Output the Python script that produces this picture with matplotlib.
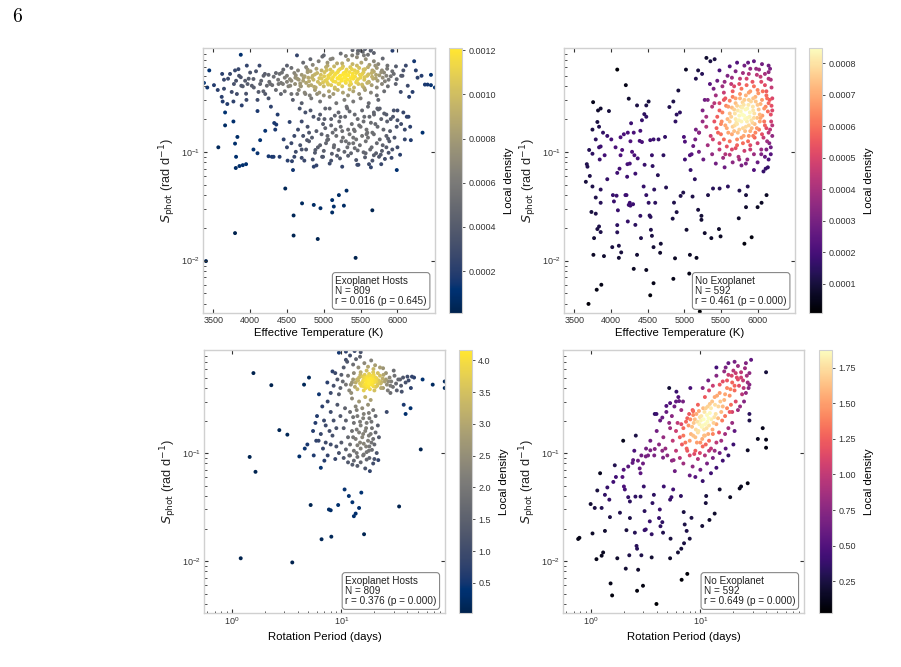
import numpy as np
import matplotlib
matplotlib.use("Agg")
import matplotlib.pyplot as plt
from matplotlib.ticker import FormatStrFormatter

plt.rcParams['font.family'] = ['Liberation Sans', 'DejaVu Sans']
plt.rcParams['mathtext.fontset'] = 'custom'
plt.rcParams['mathtext.rm'] = 'Liberation Sans'
plt.rcParams['mathtext.it'] = 'Liberation Sans:italic'
plt.rcParams['mathtext.bf'] = 'Liberation Sans:bold'

# ---- data: (Teff [K], S_phot [rad/d]) and (Prot [d], S_phot) ----
hosts_teff_sphot = [
    (3373, 0.43), (3418, 0.39), (3445, 0.56), (3509, 0.41), (3560, 0.37), (3568, 0.11), (3400, 0.0099),
    (3614, 0.32), (3627, 0.29), (3645, 0.46), (3660, 0.23), (3660, 0.175), (3645, 0.38), (3690, 0.275),
    (3727, 0.52), (3750, 0.355), (3773, 0.29), (3773, 0.19), (3795, 0.56), (3809, 0.45), (3795, 0.119),
    (3827, 0.137), (3809, 0.09), (3805, 0.071), (3795, 0.0179), (3841, 0.575), (3873, 0.78), (3873, 0.485),
    (3880, 0.405), (3886, 0.267), (3855, 0.074), (3900, 0.0754), (3945, 0.077), (3932, 0.45), (3945, 0.342),
    (3955, 0.62), (3965, 0.42), (4000, 0.535), (4023, 0.405), (4045, 0.467), (4045, 0.105), (4100, 0.237),
    (4100, 0.097), (4127, 0.62), (4114, 0.355), (4136, 0.42), (4136, 0.128), (4182, 0.5), (4205, 0.34),
    (4227, 0.405), (4205, 0.156), (4250, 0.51), (4250, 0.091), (4273, 0.42), (4282, 0.26), (4295, 0.09),
    (4318, 0.09), (4327, 0.184), (4341, 0.16), (4355, 0.178), (4373, 0.22), (4386, 0.42), (4400, 0.09),
    (4418, 0.34), (4432, 0.535), (4445, 0.42), (4455, 0.13), (4477, 0.046), (4500, 0.62), (4500, 0.11),
    (4509, 0.083), (4536, 0.188), (4545, 0.405), (4568, 0.082), (4582, 0.068), (4590, 0.026), (4590, 0.017),
    (4600, 0.09), (4614, 0.48), (4636, 0.77), (4640, 0.34), (4660, 0.46), (4673, 0.25), (4682, 0.405),
    (4705, 0.0336), (4727, 0.48), (4736, 0.083), (4750, 0.34), (4773, 0.128), (4795, 0.405), (4818, 0.71),
    (4840, 0.48), (4864, 0.0325), (4864, 0.073), (4886, 0.104), (4909, 0.34), (4918, 0.0158), (4955, 0.0303),
    (4977, 0.09), (5000, 0.77), (5009, 0.2), (5020, 0.25), (5045, 0.128), (5091, 0.71), (5114, 0.036),
    (5114, 0.0277), (5136, 0.0314), (5136, 0.11), (5159, 0.16), (5205, 0.040), (5227, 0.209), (5273, 0.032),
    (5309, 0.044), (5318, 0.25), (5341, 0.119), (5386, 0.77), (5409, 0.16), (5432, 0.0106), (5455, 0.076),
    (5464, 0.85), (5500, 0.85), (5523, 0.52), (5545, 0.77), (5568, 0.097), (5591, 0.15), (5614, 0.077),
    (5636, 0.85), (5659, 0.029), (5682, 0.22), (5727, 0.25), (5773, 0.094), (5818, 0.535), (5864, 0.62),
    (5873, 0.132), (5909, 0.2), (5932, 0.85), (5977, 0.42), (5991, 0.068), (6000, 0.24), (6036, 0.094),
    (6045, 0.355), (6068, 0.5), (6114, 0.62), (6127, 0.21), (6140, 0.405), (6159, 0.32), (6173, 0.17),
    (6182, 0.128), (6205, 0.355), (6227, 0.68), (6250, 0.56), (6273, 0.48), (6327, 0.5), (6341, 0.15),
    (6373, 0.415), (6409, 0.415), (6455, 0.51), (6455, 0.41), (6509, 0.39),
    (3900, 0.40), (3980, 0.47), (4050, 0.39), (4150, 0.45), (4200, 0.52), (4260, 0.44), (4320, 0.49),
    (4350, 0.37), (3850, 0.50), (3780, 0.42), (3700, 0.47), (3620, 0.52), (4080, 0.55), (4180, 0.36),
    (4250, 0.31), (3950, 0.30), (3820, 0.34), (4100, 0.30),
    (4720, 0.66), (4850, 0.63), (4930, 0.68), (5050, 0.62), (5120, 0.72), (5180, 0.65), (5260, 0.61),
    (5330, 0.70), (5390, 0.64), (5450, 0.74), (5510, 0.66), (5570, 0.71), (5620, 0.63), (5680, 0.68),
    (5740, 0.64), (5800, 0.72), (5460, 0.80), (5530, 0.83), (5600, 0.78), (5390, 0.86), (5680, 0.81),
    (5300, 0.76), (5560, 0.88), (5640, 0.87), (4980, 0.75), (5230, 0.80),
    (4450, 0.57), (4560, 0.59), (4650, 0.56), (4760, 0.60), (4820, 0.55), (4900, 0.58), (4970, 0.56),
    (5030, 0.60), (5090, 0.57), (5140, 0.61), (5200, 0.56), (5250, 0.59), (5310, 0.57), (5360, 0.60),
    (5420, 0.56), (5480, 0.59), (5540, 0.57), (5600, 0.60), (5660, 0.56), (5720, 0.59), (5790, 0.56),
    (5860, 0.58), (5930, 0.55),
    (4400, 0.52), (4500, 0.50), (4600, 0.53), (4700, 0.51), (4780, 0.54), (4850, 0.50), (4910, 0.53),
    (4960, 0.51), (5010, 0.54), (5060, 0.50), (5100, 0.53), (5150, 0.51), (5190, 0.54), (5230, 0.50),
    (5270, 0.53), (5310, 0.51), (5350, 0.54), (5390, 0.50), (5440, 0.53), (5490, 0.51), (5540, 0.54),
    (5590, 0.50), (5650, 0.53), (5710, 0.51), (5780, 0.54), (5850, 0.50), (5950, 0.52), (6050, 0.50),
    (4380, 0.46), (4470, 0.48), (4560, 0.45), (4640, 0.47), (4720, 0.45), (4790, 0.48), (4860, 0.46),
    (4920, 0.44), (4970, 0.47), (5020, 0.45), (5070, 0.48), (5110, 0.46), (5160, 0.44), (5200, 0.47),
    (5240, 0.45), (5280, 0.48), (5320, 0.46), (5360, 0.44), (5400, 0.47), (5450, 0.45), (5500, 0.48),
    (5550, 0.46), (5610, 0.44), (5670, 0.47), (5730, 0.45), (5800, 0.48), (5880, 0.46),
    (4300, 0.41), (4420, 0.43), (4520, 0.40), (4610, 0.42), (4690, 0.40), (4760, 0.43), (4830, 0.41),
    (4890, 0.39), (4950, 0.42), (5000, 0.40), (5050, 0.43), (5100, 0.41), (5150, 0.39), (5200, 0.42),
    (5250, 0.40), (5300, 0.43), (5350, 0.41), (5410, 0.39), (5470, 0.42), (5530, 0.40), (5590, 0.43),
    (5650, 0.41), (5720, 0.39), (5790, 0.42), (5870, 0.40),
    (4470, 0.36), (4560, 0.34), (4660, 0.37), (4740, 0.35), (4810, 0.33), (4880, 0.37), (4940, 0.35),
    (5000, 0.33), (5070, 0.36), (5130, 0.34), (5190, 0.37), (5260, 0.35), (5330, 0.33), (5400, 0.36),
    (5480, 0.34), (5560, 0.37), (5640, 0.35), (5720, 0.33), (5820, 0.36),
    (4580, 0.30), (4700, 0.28), (4830, 0.31), (4950, 0.29), (5080, 0.32), (5170, 0.28), (5280, 0.30),
    (5400, 0.29), (5500, 0.31), (5610, 0.28), (5740, 0.30),
    (4880, 0.515), (4940, 0.475), (5005, 0.495), (5045, 0.465), (5085, 0.515), (5125, 0.485), (5165, 0.525),
    (5185, 0.475), (5215, 0.495), (5245, 0.465), (5265, 0.515), (5295, 0.485), (5335, 0.505), (5365, 0.475),
    (5395, 0.525), (5425, 0.49), (5465, 0.465), (5505, 0.505), (5555, 0.485), (5605, 0.515), (5655, 0.49),
    (5705, 0.475), (5755, 0.505), (4990, 0.435), (5060, 0.415), (5130, 0.445), (5210, 0.425), (5290, 0.445),
    (5370, 0.42), (5440, 0.435), (5520, 0.415), (5610, 0.435), (5040, 0.565), (5120, 0.545), (5220, 0.575),
    (5300, 0.545), (5380, 0.575), (5460, 0.545), (5560, 0.575), (5680, 0.545), (4800, 0.445), (4740, 0.495),
    (4680, 0.425), (5830, 0.445), (5910, 0.495), (5990, 0.465), (4620, 0.505), (4540, 0.465), (5150, 0.38),
    (5350, 0.375), (5550, 0.385), (4870, 0.395), (5250, 0.65), (5050, 0.66), (5450, 0.62), (5700, 0.62),
    (4780, 0.57), (5980, 0.61), (6080, 0.56), (4500, 0.44), (4350, 0.53),
    (4820, 0.24), (4950, 0.22), (5080, 0.25), (5200, 0.23), (5310, 0.26), (5420, 0.22), (5520, 0.24),
    (5600, 0.26), (5680, 0.23), (5760, 0.25), (5850, 0.22), (5950, 0.24), (6080, 0.23), (5550, 0.21),
    (4700, 0.19), (4860, 0.21), (4990, 0.18), (5100, 0.20), (5210, 0.19), (5290, 0.21), (5380, 0.18),
    (5460, 0.20), (5540, 0.19), (5620, 0.21), (5700, 0.18), (5780, 0.20), (5860, 0.19), (5940, 0.21),
    (6050, 0.18),
    (4650, 0.16), (4780, 0.17), (4900, 0.155), (5020, 0.165), (5120, 0.15), (5230, 0.17), (5330, 0.16),
    (5420, 0.155), (5500, 0.17), (5580, 0.16), (5660, 0.15), (5730, 0.17), (5810, 0.16), (5900, 0.155),
    (5990, 0.17), (6100, 0.16),
    (4720, 0.14), (4840, 0.135), (4970, 0.145), (5060, 0.13), (5170, 0.14), (5260, 0.135), (5350, 0.145),
    (5440, 0.13), (5520, 0.14), (5600, 0.135), (5680, 0.145), (5760, 0.13), (5850, 0.14), (5960, 0.135),
    (4560, 0.12), (4680, 0.115), (4800, 0.125), (4920, 0.11), (5030, 0.12), (5140, 0.115), (5240, 0.125),
    (5320, 0.11), (5400, 0.12), (5490, 0.115), (5570, 0.125), (5650, 0.11), (5720, 0.12), (5800, 0.115),
    (5890, 0.125), (6000, 0.11),
    (4620, 0.10), (4760, 0.105), (4880, 0.098), (5000, 0.102), (5110, 0.096), (5200, 0.104), (5280, 0.10),
    (5370, 0.097), (5460, 0.103), (5540, 0.099), (5630, 0.105), (5710, 0.097), (5790, 0.102), (5880, 0.098),
    (4700, 0.088), (4850, 0.085), (4990, 0.09), (5100, 0.083), (5220, 0.087), (5330, 0.092), (5440, 0.084),
    (5560, 0.089), (5660, 0.083), (5750, 0.09), (5830, 0.086), (5920, 0.088),
    (4900, 0.075), (5080, 0.078), (5250, 0.073), (5470, 0.076), (5640, 0.072), (5780, 0.077),
    (4750, 0.23), (4930, 0.20), (5150, 0.215), (5350, 0.235), (5480, 0.175), (5640, 0.185), (5820, 0.225),
    (6000, 0.195), (6150, 0.21), (4800, 0.15), (5050, 0.14), (5300, 0.125), (5580, 0.145), (5850, 0.11),
    (6100, 0.13), (4700, 0.105), (4950, 0.115), (5180, 0.092), (5420, 0.108), (5680, 0.093), (5930, 0.105),
    (4600, 0.14), (5740, 0.245), (5100, 0.175), (5400, 0.135), (5250, 0.155),
]

hosts_prot_sphot = [
    (1.58, 0.55), (2.30, 0.425), (2.72, 0.163), (3.22, 0.148), (1.46, 0.092), (1.65, 0.067), (1.21, 0.0106),
    (3.57, 0.0097), (4.14, 0.093), (4.57, 0.43), (5.07, 0.50), (4.64, 0.11), (4.9, 0.12), (5.25, 0.033),
    (5.52, 0.16), (5.6, 0.095), (5.9, 0.13), (6.25, 0.35), (6.5, 0.073), (6.6, 0.0159), (6.7, 0.27),
    (6.95, 0.2), (7.2, 0.125), (7.45, 0.45), (7.7, 0.030), (8.0, 0.0295), (8.1, 0.0168), (8.3, 0.57),
    (8.0, 0.36), (9.35, 0.033), (10.7, 0.046), (11.7, 0.040), (12.6, 0.035), (13.0, 0.026), (13.5, 0.0275),
    (14.5, 0.031), (15.2, 0.043), (16.1, 0.0177), (11.0, 0.73), (33.6, 0.032), (52.9, 0.108), (21.7, 0.086),
    (68.0, 0.43), (87.5, 0.46), (87.5, 0.40), (55.0, 0.48), (37.0, 0.28), (38.5, 0.23), (42.7, 0.26),
    (25.9, 0.24), (34.3, 0.48), (40.0, 0.51), (46.0, 0.50),
    (13.5, 0.45), (14.5, 0.50), (15.2, 0.42), (15.8, 0.47), (16.3, 0.53), (16.8, 0.44), (17.2, 0.49),
    (17.6, 0.41), (18.0, 0.46), (18.5, 0.52), (19.0, 0.43), (19.4, 0.48), (19.9, 0.45), (20.5, 0.50),
    (21.2, 0.42), (22.0, 0.47), (22.8, 0.44), (23.8, 0.49), (24.8, 0.46), (12.8, 0.48), (12.2, 0.43),
    (14.0, 0.39), (16.0, 0.38), (18.2, 0.39), (20.0, 0.38), (15.0, 0.56), (17.0, 0.58), (19.5, 0.56),
    (21.5, 0.55), (11.5, 0.52), (13.0, 0.55), (16.5, 0.47), (17.8, 0.44), (18.8, 0.47), (15.5, 0.45),
    (20.8, 0.46), (14.2, 0.47), (17.4, 0.51), (19.2, 0.51), (16.1, 0.50),
    (14.8, 0.44), (15.6, 0.51), (16.4, 0.43), (17.0, 0.455), (17.6, 0.475), (18.1, 0.43), (18.4, 0.49),
    (18.9, 0.455), (19.6, 0.415), (20.2, 0.47), (21.0, 0.49), (21.6, 0.44), (16.8, 0.50), (15.9, 0.415),
    (22.5, 0.52), (23.2, 0.455), (13.9, 0.48), (14.9, 0.53), (17.9, 0.54), (19.7, 0.53), (16.7, 0.40),
    (20.6, 0.41), (23.0, 0.40), (12.5, 0.45), (25.5, 0.48), (26.8, 0.46), (28.0, 0.42), (13.3, 0.41),
    (24.2, 0.53), (17.3, 0.42),
    (10.5, 0.62), (11.3, 0.70), (12.0, 0.80), (12.8, 0.66), (13.6, 0.74), (14.3, 0.62), (15.0, 0.86),
    (16.2, 0.68), (17.5, 0.63), (18.7, 0.72), (20.3, 0.65), (22.5, 0.62), (13.2, 0.88), (11.0, 0.87),
    (9.5, 0.85), (14.8, 0.78), (24.0, 0.61), (19.6, 0.60),
    (26.0, 0.43), (27.5, 0.50), (28.5, 0.46), (29.5, 0.41), (30.5, 0.52), (31.5, 0.44), (33.0, 0.48),
    (35.0, 0.42), (36.5, 0.50), (38.5, 0.45), (41.0, 0.47), (43.0, 0.40), (26.5, 0.38), (28.0, 0.36),
    (32.0, 0.38), (44.0, 0.51), (24.0, 0.40), (25.5, 0.55), (30.0, 0.58), (35.5, 0.37),
    (8.5, 0.42), (9.2, 0.48), (9.8, 0.40), (10.3, 0.46), (11.0, 0.43), (11.8, 0.38), (10.0, 0.53),
    (8.8, 0.55), (12.3, 0.36), (9.5, 0.35),
    (12.5, 0.32), (14.5, 0.30), (16.5, 0.33), (18.5, 0.31), (13.5, 0.27), (15.5, 0.26), (17.5, 0.28),
    (19.5, 0.25), (12.0, 0.24), (14.0, 0.22), (16.0, 0.23), (18.0, 0.21), (20.5, 0.22), (11.0, 0.20),
    (13.0, 0.19), (15.0, 0.18), (17.0, 0.19), (19.0, 0.17), (21.5, 0.18), (10.5, 0.17), (12.5, 0.16),
    (14.5, 0.155), (16.5, 0.16), (18.5, 0.15), (20.5, 0.155), (11.5, 0.14), (13.5, 0.135), (15.5, 0.14),
    (17.5, 0.13), (19.5, 0.135), (22.0, 0.14), (10.0, 0.125), (12.0, 0.12), (14.0, 0.118), (16.0, 0.122),
    (18.0, 0.115), (20.0, 0.12), (11.0, 0.108), (13.0, 0.105), (15.0, 0.11), (17.0, 0.102), (19.0, 0.107),
    (21.0, 0.10), (12.0, 0.095), (14.0, 0.092), (16.0, 0.097), (18.0, 0.09), (13.0, 0.085), (15.0, 0.082),
    (17.0, 0.087), (19.5, 0.08), (14.0, 0.076), (16.5, 0.072), (18.2, 0.068), (10.5, 0.09), (11.5, 0.082),
    (9.5, 0.10), (8.8, 0.088), (9.0, 0.115), (8.0, 0.12), (7.5, 0.095), (8.3, 0.145), (7.8, 0.16),
    (9.0, 0.17), (8.5, 0.20), (7.2, 0.18), (6.5, 0.15), (6.8, 0.11), (7.0, 0.085), (6.2, 0.13),
    (9.8, 0.22), (10.8, 0.26), (9.2, 0.28), (8.0, 0.24), (6.0, 0.22), (5.8, 0.19), (7.5, 0.30),
    (13.8, 0.25), (15.8, 0.21), (17.8, 0.235), (12.8, 0.215), (14.8, 0.195), (16.8, 0.17), (18.8, 0.195),
    (13.8, 0.165), (15.8, 0.15), (17.8, 0.145), (12.8, 0.14), (14.8, 0.125), (16.8, 0.115), (18.8, 0.125),
    (13.8, 0.10), (15.8, 0.095), (17.8, 0.105), (20.0, 0.088), (11.8, 0.095), (12.6, 0.078),
]

noexo_teff_sphot = [
    (4086, 0.57), (4203, 0.41), (4243, 0.308), (3757, 0.286), (3824, 0.24), (3860, 0.25), (3973, 0.237),
    (3815, 0.188), (3838, 0.17), (3892, 0.15), (3748, 0.16), (3950, 0.14), (4005, 0.13), (4063, 0.11),
    (4131, 0.136), (4176, 0.145), (4230, 0.15), (4266, 0.125), (4311, 0.15), (4275, 0.183), (4356, 0.267),
    (4401, 0.156), (4423, 0.195), (4455, 0.222), (4482, 0.21), (4514, 0.29), (4482, 0.267), (4536, 0.128),
    (4581, 0.13), (4649, 0.13), (4716, 0.093), (4738, 0.137), (3703, 0.104), (3680, 0.073), (3671, 0.077),
    (3658, 0.053), (3712, 0.060), (3748, 0.096), (3793, 0.13), (3838, 0.11), (3860, 0.112), (3847, 0.085),
    (3914, 0.093), (3950, 0.056), (4027, 0.040), (4077, 0.0395), (4095, 0.029), (4041, 0.035), (4117, 0.070),
    (4086, 0.064), (4131, 0.093), (4153, 0.104), (4225, 0.077), (4257, 0.078), (4198, 0.040), (4221, 0.059),
    (4257, 0.034), (4265, 0.032), (4288, 0.10), (4320, 0.093), (4333, 0.063), (4365, 0.087), (4392, 0.126),
    (4423, 0.123), (4459, 0.076), (4482, 0.040), (4446, 0.048), (4514, 0.034), (4559, 0.093), (4568, 0.074),
    (4590, 0.045), (4604, 0.034), (4640, 0.061), (4752, 0.047), (3748, 0.048), (3860, 0.045), (3793, 0.038),
    (3860, 0.034), (3734, 0.028), (3793, 0.027), (3838, 0.0206), (3815, 0.0195), (3860, 0.0183),
    (3770, 0.0161), (3761, 0.0113), (3905, 0.0110), (4018, 0.0133), (4086, 0.0212), (4086, 0.0182),
    (4108, 0.0137), (4108, 0.0106), (4140, 0.0119), (4212, 0.040), (4230, 0.0229), (4243, 0.0325),
    (4302, 0.033), (4333, 0.0213), (4356, 0.0113), (4311, 0.0084), (4401, 0.0258), (4410, 0.0161),
    (4482, 0.0082), (4527, 0.026), (4540, 0.0252), (4545, 0.0192), (4559, 0.0169), (4581, 0.0133),
    (4536, 0.0048), (4581, 0.0062), (4671, 0.0118), (4680, 0.0143), (3694, 0.0040), (3806, 0.0054),
    (3869, 0.0060), (4851, 0.0068), (4874, 0.0105), (4842, 0.0243), (4860, 0.0341), (4896, 0.0279),
    (4950, 0.0393), (4986, 0.0422), (5031, 0.0192), (5077, 0.0113), (5068, 0.0076), (5167, 0.0106),
    (5113, 0.0388), (5189, 0.0293), (5234, 0.0258), (5234, 0.0237), (5279, 0.0179), (5369, 0.0161),
    (5473, 0.0195), (5495, 0.0167), (5324, 0.040), (5392, 0.046), (5482, 0.046), (5595, 0.048),
    (5752, 0.044), (5842, 0.040), (5842, 0.031), (5865, 0.048), (6000, 0.031), (6054, 0.034), (6122, 0.040),
    (5743, 0.0245), (5820, 0.0143), (5919, 0.0164), (5212, 0.0034), (4851, 0.29), (4896, 0.22),
    (4880, 0.19), (4919, 0.366), (4797, 0.258), (4941, 0.23), (4995, 0.137), (5009, 0.124), (5009, 0.085),
    (5077, 0.093), (5086, 0.068), (5144, 0.056), (5122, 0.113), (5158, 0.47), (5189, 0.56), (5023, 0.57),
    (5243, 0.52), (5279, 0.30), (5302, 0.73), (5356, 0.68), (5414, 0.71), (5158, 0.16), (5203, 0.15),
    (5450, 0.45), (5520, 0.40), (5590, 0.50), (5640, 0.42), (5700, 0.55), (5760, 0.47), (5820, 0.62),
    (5880, 0.52), (5930, 0.44), (5980, 0.58), (6040, 0.49), (6100, 0.41), (6150, 0.54), (6180, 0.46),
    (5870, 0.66), (5950, 0.68), (6060, 0.64), (5780, 0.38), (5660, 0.36), (6000, 0.37), (6120, 0.36),
    (5540, 0.35), (5400, 0.38), (5350, 0.42), (5480, 0.56), (5620, 0.61), (5720, 0.66), (6150, 0.62),
    (6190, 0.39), (5850, 0.41), (5900, 0.36),
    (5320, 0.30), (5380, 0.26), (5430, 0.33), (5480, 0.28), (5520, 0.23), (5560, 0.31), (5600, 0.26),
    (5640, 0.21), (5660, 0.32), (5700, 0.28), (5730, 0.24), (5760, 0.31), (5790, 0.22), (5810, 0.27),
    (5840, 0.33), (5860, 0.25), (5890, 0.21), (5910, 0.29), (5940, 0.24), (5970, 0.32), (6000, 0.27),
    (6030, 0.22), (6060, 0.30), (6090, 0.25), (6120, 0.33), (6150, 0.28), (6180, 0.22), (6200, 0.31),
    (5700, 0.20), (5770, 0.26), (5830, 0.20), (5880, 0.30), (5680, 0.245), (5950, 0.205), (5250, 0.24),
    (5300, 0.21), (5620, 0.295), (5750, 0.215),
    (5300, 0.17), (5360, 0.14), (5410, 0.19), (5460, 0.15), (5500, 0.18), (5540, 0.13), (5580, 0.165),
    (5620, 0.19), (5650, 0.145), (5690, 0.175), (5720, 0.13), (5750, 0.16), (5780, 0.19), (5810, 0.14),
    (5840, 0.17), (5870, 0.125), (5900, 0.155), (5930, 0.185), (5960, 0.135), (5990, 0.165), (6030, 0.19),
    (6060, 0.145), (6100, 0.175), (6130, 0.125), (6170, 0.16), (6200, 0.14), (5200, 0.15), (5250, 0.19),
    (5150, 0.13), (5720, 0.18), (5800, 0.165), (5880, 0.175), (5680, 0.155), (5620, 0.125), (5940, 0.14),
    (5200, 0.10), (5260, 0.085), (5320, 0.115), (5380, 0.095), (5430, 0.078), (5480, 0.105), (5530, 0.088),
    (5580, 0.112), (5620, 0.094), (5660, 0.080), (5700, 0.108), (5740, 0.090), (5780, 0.075), (5820, 0.102),
    (5860, 0.085), (5900, 0.115), (5950, 0.095), (6000, 0.080), (6050, 0.105), (6100, 0.090), (6140, 0.072),
    (6180, 0.110), (6150, 0.085), (5950, 0.068), (6080, 0.066), (6110, 0.070), (5550, 0.072), (5100, 0.095),
    (5690, 0.225), (5720, 0.265), (5745, 0.195), (5770, 0.235), (5795, 0.285), (5815, 0.215), (5835, 0.245),
    (5855, 0.19), (5875, 0.27), (5895, 0.23), (5915, 0.195), (5935, 0.26), (5955, 0.225), (5975, 0.29),
    (5995, 0.205), (6015, 0.245), (6040, 0.275), (6065, 0.215), (6090, 0.19), (6110, 0.26), (6140, 0.235),
    (6165, 0.30), (6185, 0.19), (5650, 0.255), (5620, 0.225), (5590, 0.20), (5570, 0.265), (5540, 0.30),
    (5510, 0.19), (5480, 0.24), (5450, 0.21), (5410, 0.28), (5700, 0.31), (5760, 0.34), (5820, 0.30),
    (5880, 0.35), (5940, 0.31), (6010, 0.345), (6070, 0.36), (6130, 0.31), (6190, 0.265), (5730, 0.15),
    (5780, 0.135), (5830, 0.155), (5880, 0.14), (5920, 0.165), (5970, 0.15), (6020, 0.16), (6080, 0.135),
    (6150, 0.15), (5660, 0.17), (5600, 0.15), (5560, 0.175), (5500, 0.145), (5440, 0.165), (5720, 0.115),
    (5800, 0.12), (5900, 0.105), (6000, 0.12), (6120, 0.105), (5650, 0.105), (5560, 0.095), (5480, 0.12),
    (5390, 0.13), (6050, 0.095), (6180, 0.095), (5750, 0.42), (5850, 0.47), (5950, 0.40), (6050, 0.44),
    (6150, 0.47), (5650, 0.48), (5550, 0.44), (6100, 0.52), (5990, 0.51), (5900, 0.58), (5680, 0.40),
    (5800, 0.53), (6170, 0.58), (6020, 0.57), (5750, 0.085), (5840, 0.078), (6160, 0.12), (6200, 0.175),
    (6200, 0.24), (5860, 0.205), (5790, 0.255), (5710, 0.185), (5960, 0.18), (6040, 0.205), (6120, 0.165),
]

noexo_prot_sphot = [
    (0.79, 0.0164), (0.77, 0.016), (1.0, 0.0337), (1.04, 0.018), (1.09, 0.031), (1.15, 0.045), (1.13, 0.0104),
    (1.22, 0.065), (1.26, 0.0112), (1.30, 0.0120), (1.26, 0.031), (1.35, 0.041), (1.35, 0.019), (1.42, 0.048),
    (1.48, 0.037), (1.50, 0.0255), (1.52, 0.0062), (1.57, 0.0048), (1.61, 0.054), (1.66, 0.077),
    (1.75, 0.0106), (1.85, 0.028), (1.95, 0.060), (1.98, 0.13), (2.01, 0.049), (2.05, 0.046), (2.09, 0.0085),
    (2.12, 0.0193), (2.2, 0.039), (2.25, 0.0113), (2.28, 0.0356), (2.28, 0.025), (2.41, 0.081), (2.44, 0.086),
    (2.58, 0.145), (2.53, 0.0183), (2.56, 0.0395), (2.62, 0.0138), (2.65, 0.013), (2.71, 0.0083),
    (2.65, 0.0053), (2.8, 0.072), (2.85, 0.065), (2.85, 0.0395), (2.9, 0.0113), (3.0, 0.0059), (3.05, 0.049),
    (3.1, 0.029), (3.1, 0.0193), (3.18, 0.0196), (3.18, 0.093), (3.34, 0.095), (3.46, 0.0233), (3.5, 0.106),
    (3.6, 0.0108), (3.6, 0.0177), (3.66, 0.0344), (3.77, 0.041), (3.84, 0.109), (3.84, 0.23), (3.98, 0.23),
    (3.98, 0.004), (4.2, 0.025), (4.27, 0.030), (4.33, 0.021), (4.5, 0.0229), (4.57, 0.0183), (4.57, 0.0906),
    (4.5, 0.213), (4.64, 0.049), (4.9, 0.273), (5.2, 0.40), (5.3, 0.29), (5.45, 0.039), (5.3, 0.037),
    (5.35, 0.0161), (5.3, 0.0106), (5.65, 0.046), (5.7, 0.086), (5.85, 0.068), (6.05, 0.37), (6.25, 0.012),
    (6.4, 0.303), (6.65, 0.040), (6.7, 0.013), (6.75, 0.0067), (6.95, 0.30), (7.05, 0.0284), (7.1, 0.0146),
    (7.2, 0.0218), (7.5, 0.019), (7.6, 0.0076), (8.0, 0.0161), (8.3, 0.0251), (8.1, 0.40), (8.6, 0.244),
    (10.4, 0.0211), (11.2, 0.0344), (11.3, 0.040), (12.1, 0.024), (13.5, 0.0275), (15.0, 0.046),
    (18.7, 0.039), (22.8, 0.047), (23.5, 0.049), (27.0, 0.0525), (27.0, 0.106), (28.0, 0.20), (28.0, 0.23),
    (33.4, 0.135), (37.0, 0.17), (39.7, 0.133), (39.7, 0.112), (39.7, 0.56), (29.0, 0.73), (26.0, 0.68),
    (28.0, 0.43),
    (7.0, 0.17), (7.6, 0.21), (8.2, 0.15), (8.7, 0.19), (9.2, 0.23), (9.6, 0.16), (10.1, 0.20), (10.5, 0.18),
    (10.9, 0.24), (11.4, 0.17), (11.9, 0.21), (12.5, 0.26), (13.2, 0.19), (13.8, 0.23), (14.6, 0.27),
    (8.0, 0.13), (9.0, 0.14), (10.0, 0.125), (11.0, 0.145), (12.0, 0.13), (13.0, 0.15), (6.5, 0.14),
    (7.3, 0.125), (8.5, 0.25), (9.5, 0.28), (10.2, 0.22), (11.2, 0.26), (12.8, 0.30), (9.8, 0.185),
    (10.8, 0.165), (8.9, 0.205), (11.6, 0.195), (12.2, 0.235), (7.8, 0.18), (6.2, 0.19), (6.0, 0.16),
    (5.6, 0.13), (5.3, 0.17), (14.5, 0.21), (15.5, 0.24),
    (8.4, 0.175), (9.1, 0.165), (9.4, 0.195), (9.9, 0.215), (10.3, 0.175), (10.7, 0.205), (11.1, 0.185),
    (11.5, 0.225), (12.0, 0.18), (12.6, 0.205), (13.4, 0.215), (8.6, 0.225), (9.7, 0.245), (10.6, 0.26),
    (11.7, 0.27), (7.4, 0.195), (8.1, 0.205), (9.3, 0.125), (10.4, 0.135), (11.8, 0.15), (12.9, 0.165),
    (14.0, 0.185), (14.8, 0.155), (15.8, 0.20), (16.8, 0.22), (17.5, 0.26), (18.5, 0.24), (13.6, 0.28),
    (15.2, 0.30), (16.0, 0.27), (7.0, 0.145), (6.7, 0.185), (7.9, 0.23), (8.6, 0.145), (9.5, 0.155),
    (10.8, 0.145), (12.2, 0.285), (14.2, 0.34), (16.8, 0.35), (18.8, 0.39), (20.5, 0.42), (22.0, 0.48),
    (17.5, 0.47), (19.3, 0.52), (21.0, 0.55), (23.5, 0.50), (24.8, 0.40), (12.5, 0.11), (14.0, 0.125),
    (15.5, 0.13), (16.8, 0.15), (18.0, 0.17), (19.5, 0.19), (20.5, 0.16), (6.8, 0.12), (7.6, 0.105),
    (8.8, 0.098), (9.9, 0.10), (11.2, 0.12), (13.5, 0.105),
    (13.5, 0.33), (15.0, 0.36), (16.5, 0.31), (17.5, 0.40), (18.5, 0.34), (19.5, 0.45), (20.5, 0.38),
    (21.5, 0.50), (22.5, 0.42), (23.5, 0.56), (24.5, 0.47), (25.5, 0.61), (26.5, 0.52), (27.5, 0.40),
    (16.0, 0.46), (18.0, 0.53), (20.0, 0.58), (22.0, 0.64), (24.0, 0.35), (21.0, 0.30), (19.0, 0.28),
    (15.0, 0.43), (14.0, 0.52), (17.0, 0.62), (12.0, 0.38), (11.0, 0.33), (13.0, 0.42), (25.0, 0.30),
    (27.0, 0.45), (18.0, 0.68), (16.5, 0.57), (20.5, 0.70), (23.0, 0.27), (26.0, 0.36), (11.8, 0.47),
    (10.5, 0.40), (14.0, 0.62), (28.0, 0.55), (22.0, 0.25), (19.5, 0.24),
    (5.0, 0.095), (5.5, 0.085), (6.0, 0.105), (6.5, 0.09), (7.0, 0.08), (7.5, 0.11), (8.0, 0.095),
    (8.5, 0.075), (9.0, 0.105), (9.5, 0.088), (10.0, 0.07), (10.5, 0.115), (11.0, 0.095), (11.5, 0.08),
    (12.0, 0.105), (13.0, 0.09), (14.0, 0.073), (15.0, 0.10), (16.0, 0.085), (17.0, 0.11), (18.0, 0.095),
    (20.0, 0.12), (9.0, 0.06), (10.5, 0.055), (12.5, 0.065), (8.0, 0.062), (4.8, 0.11), (4.2, 0.12),
    (3.5, 0.13), (3.8, 0.095), (4.0, 0.16), (4.3, 0.20), (4.6, 0.14), (4.9, 0.24), (5.2, 0.19), (5.5, 0.22),
    (5.8, 0.27), (6.3, 0.33), (6.7, 0.25), (3.2, 0.11), (4.5, 0.105), (6.0, 0.30),
    (2.5, 0.105), (2.9, 0.095), (2.2, 0.075), (1.7, 0.06), (2.0, 0.07), (2.7, 0.085), (3.0, 0.08),
]

box_texts = [
    "Exoplanet Hosts\nN = 809\nr = 0.016 (p = 0.645)",
    "No Exoplanet\nN = 592\nr = 0.461 (p = 0.000)",
    "Exoplanet Hosts\nN = 809\nr = 0.376 (p = 0.000)",
    "No Exoplanet\nN = 592\nr = 0.649 (p = 0.000)",
]
# colour-bar ranges and ticks as printed on the figure
cbar_ranges = [(0.00001, 0.00121), (0.0000078, 0.000848), (0.028, 4.16), (0.027, 1.874)]
cbar_ticks = [
    [0.0002, 0.0004, 0.0006, 0.0008, 0.0010, 0.0012],
    [0.0001, 0.0002, 0.0003, 0.0004, 0.0005, 0.0006, 0.0007, 0.0008],
    [0.5, 1.0, 1.5, 2.0, 2.5, 3.0, 3.5, 4.0],
    [0.25, 0.50, 0.75, 1.00, 1.25, 1.50, 1.75],
]
cbar_fmt = ['%.4f', '%.4f', '%.1f', '%.2f']


def kde_density(a, b):
    # gaussian KDE (Scott's rule), evaluated at the points themselves
    pts = np.vstack([a, b])
    n = pts.shape[1]
    cov = np.cov(pts) * n ** (-1.0 / 3.0)
    inv = np.linalg.inv(cov)
    d = pts.T[:, None, :] - pts.T[None, :, :]
    m = np.einsum('abi,ij,abj->ab', d, inv, d)
    return np.exp(-0.5 * m).sum(axis=1) / (n * 2 * np.pi * np.sqrt(np.linalg.det(cov)))


W, H = 901, 667
fig = plt.figure(figsize=(W / 100, H / 100), dpi=100)
fig.text(12 / W, 1 - 22 / H, r'$\mathrm{6}$', math_fontfamily='cm', fontsize=14)

# pixel boxes: (left, top, right, bottom) for axes, (left, right) for colour bar
panels = [
    (hosts_teff_sphot, 'cividis', (203, 48, 435, 313), (449, 462), False),
    (noexo_teff_sphot, 'magma', (564, 48, 795, 313), (809, 822), False),
    (hosts_prot_sphot, 'cividis', (204, 350, 445, 613), (459, 472), True),
    (noexo_prot_sphot, 'magma', (563, 350, 804, 613), (819, 832), True),
]

for i, (data, cmap, box, cbox, logx) in enumerate(panels):
    x = np.array([p[0] for p in data], dtype=float)
    y = np.array([p[1] for p in data], dtype=float)
    xk = np.log10(x) if logx else x
    dens = kde_density(xk, np.log10(y))
    lo, hi = cbar_ranges[i]
    dens = lo + (dens - dens.min()) / (dens.max() - dens.min()) * (hi - lo)
    order = np.argsort(dens)

    l, t, r, b = box
    ax = fig.add_axes([l / W, 1 - b / H, (r - l) / W, (b - t) / H])
    sc = ax.scatter(x[order], y[order], c=dens[order], cmap=cmap, vmin=lo, vmax=hi,
                    s=8, linewidths=0)
    ax.set_yscale('log')
    ax.set_ylim(0.0033, 0.9)
    if logx:
        ax.set_xscale('log')
        ax.set_xlim(0.56, 88)
        ax.set_xlabel('Rotation Period (days)', fontsize=8.2, labelpad=3)
    else:
        ax.set_xlim(3360, 6510)
        ax.set_xticks([3500, 4000, 4500, 5000, 5500, 6000])
        ax.set_xlabel('Effective Temperature (K)', fontsize=8.2, labelpad=2)
    ax.set_ylabel(r'$S_{\mathrm{phot}}$ (rad d$^{-1}$)', fontsize=9.2, labelpad=2,
                  math_fontfamily='dejavusans', color='#222222')
    ax.tick_params(which='major', direction='in', top=True, right=True, length=3, width=0.8,
                   labelsize=6.5, colors='#333333', pad=2)
    ax.tick_params(which='minor', direction='in', top=False, right=False, length=1.8, width=0.6,
                   colors='#333333')
    for sp in ax.spines.values():
        sp.set_color('#d0d0d0')
        sp.set_linewidth(1.0)
    ax.text(0.965, 0.025, box_texts[i], transform=ax.transAxes, ha='right', va='bottom',
            multialignment='left', fontsize=7.2, color='#222222', linespacing=1.05,
            bbox=dict(boxstyle='round,pad=0.3', fc='white', ec='#888888', lw=0.8))

    cl, cr = cbox
    cax = fig.add_axes([cl / W, 1 - b / H, (cr - cl) / W, (b - t) / H])
    cb = fig.colorbar(sc, cax=cax)
    cb.set_ticks(cbar_ticks[i])
    cb.ax.yaxis.set_major_formatter(FormatStrFormatter(cbar_fmt[i]))
    cb.ax.tick_params(labelsize=6.5, length=2.5, width=0.6, colors='#333333', pad=2)
    cb.outline.set_edgecolor('#d0d0d0')
    cb.set_label('Local density', fontsize=8.2, labelpad=6)

fig.savefig('out.png', dpi=100)
